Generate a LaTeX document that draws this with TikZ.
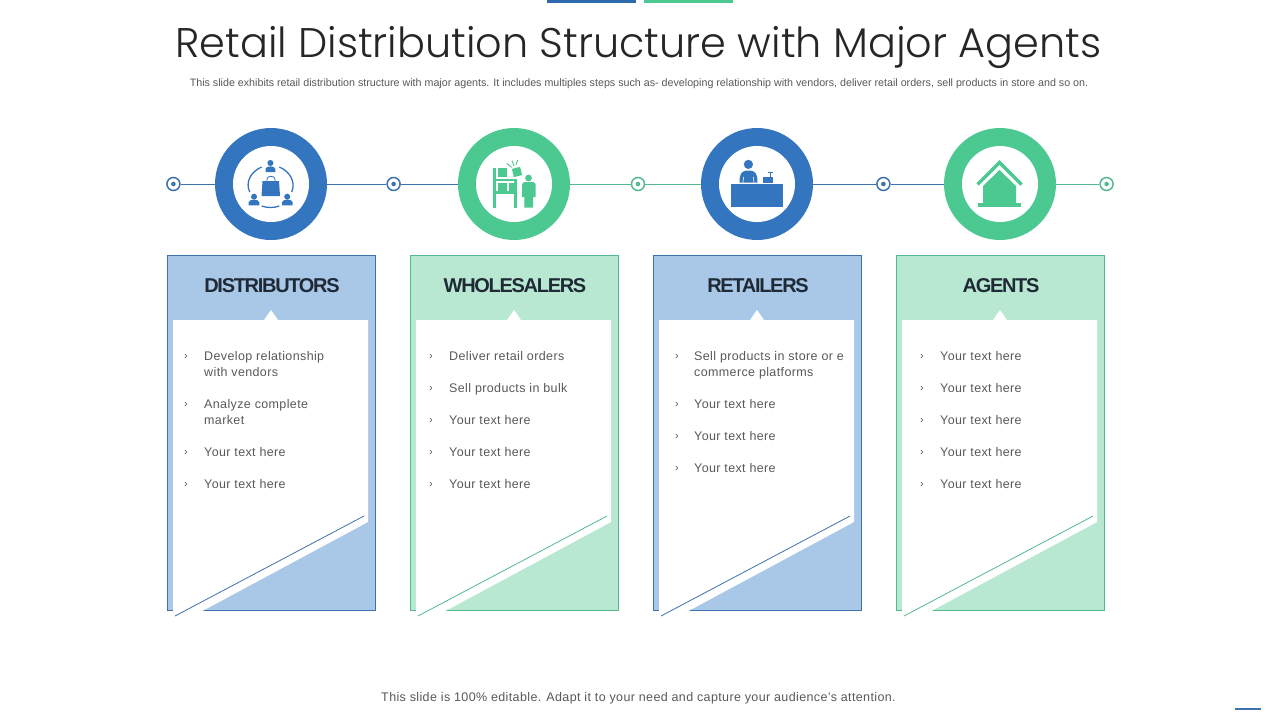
\documentclass[tikz,border=0pt]{standalone}
\usepackage{fontspec}
\setmainfont{Liberation Sans}
\newfontfamily\titlefont[LetterSpace=0]{Poppins Light}
\newfontfamily\headfont[LetterSpace=-6.5]{Liberation Sans Bold}
\newfontfamily\bodyfont[LetterSpace=3]{Liberation Sans}
\definecolor{blueM}{HTML}{3375BE}
\definecolor{greenM}{HTML}{4CC990}
\definecolor{blueL}{HTML}{A9C8E8}
\definecolor{greenL}{HTML}{B8E8D1}
\definecolor{blueB}{HTML}{3D72AC}
\definecolor{greenB}{HTML}{55B98F}
\definecolor{txt}{HTML}{595959}
\definecolor{dark}{HTML}{1F2A36}
\definecolor{titlec}{HTML}{262626}
\tikzset{
  x=1pt,y=-1pt,
  ring/.style={circle,inner sep=0,minimum size=112pt,draw=none,fill=#1},
  hole/.style={circle,inner sep=0,minimum size=76pt,draw=none,fill=white},
  stopring/.style={circle,inner sep=0,minimum size=13pt,line width=1.5pt,draw=#1,fill=white},
  stopdot/.style={circle,inner sep=0,minimum size=4.6pt,fill=#1},
  link/.style={line width=1pt,draw=#1},
  headtext/.style={font=\headfont\fontsize{20}{24}\selectfont,text=dark,inner sep=0},
  itemtext/.style={anchor=north west,inner sep=0,align=left,text=txt,font=\bodyfont\fontsize{12.5}{16}\selectfont},
  itemmark/.style={anchor=center,inner sep=0,text=txt,font=\fontsize{11}{12}\selectfont},
}
% card: #1 name, #2 left x, #3 fill, #4 border, #5 title
\newcommand{\cardblock}[5]{%
  \begin{scope}[shift={(#2,0)}]
    \node[rectangle,inner sep=0,anchor=north west,minimum width=208.4pt,minimum height=355.4pt,fill=#3,draw=#4,line width=.8pt] (#1) at (0,255) {};
    \fill[white] (6,320) -- (97,320) -- (104,310) -- (111,320) -- (201,320) -- (201,522) -- (35,611.2) -- (6,611.2) -- cycle;
    \draw[#4,line width=.8pt] (8,616) -- (197,516);
    \node[headtext] (#1title) at (105,286) {#5};
  \end{scope}}
% item: #1 name, #2 mark x, #3 text x, #4 centre y of first line, #5 text
\newcommand{\listitem}[5]{%
  \node[itemmark] (#1m) at (#2,#4+0.5) {›};
  \node[itemtext] (#1) at (#3,#4-5.1) {#5};}
\begin{document}
\begin{tikzpicture}
\useasboundingbox (0,0) rectangle (1280,720);
\fill[white] (0,0) rectangle (1280,720);
% top accents
\fill[blueM!90!black] (547,0) rectangle (636,3);
\fill[greenM] (644,0) rectangle (733,3);
\fill[blueB] (1235,708) rectangle (1261,710.2);
% title
\node[inner sep=0,text=titlec,font=\titlefont\fontsize{41.4}{48}\selectfont] (title) at (638.5,47.5) {Retail Distribution Structure with Major Agents};
\node[inner sep=0,text=txt,font=\fontsize{10.7}{12}\selectfont] (sub) at (639,83.5) {This slide exhibits retail distribution structure with major agents. It includes multiples  steps such as- developing relationship with vendors, deliver retail orders, sell products in store and so on.};
\node[inner sep=0,text=txt,font=\bodyfont\fontsize{12.5}{14}\selectfont] (foot) at (638.5,698) {This slide is 100\% editable. Adapt it to your need and capture your audience’s attention.};
% rings
\node[ring=blueM] (r1) at (271,184) {};
\node[ring=greenM] (r2) at (514,184) {};
\node[ring=blueM] (r3) at (757,184) {};
\node[ring=greenM] (r4) at (1000,184) {};
\foreach \n/\x in {h1/271,h2/514,h3/757,h4/1000} \node[hole] (\n) at (\x,184) {};
% stops
\node[stopring=blueB] (s1) at (173.4,184) {};
\node[stopring=blueB] (s2) at (393.6,184) {};
\node[stopring=greenB] (s3) at (638,184) {};
\node[stopring=blueB] (s4) at (883.4,184) {};
\node[stopring=greenB] (s5) at (1106.6,184) {};
\draw[link=blueB] (s1) -- (r1);
\draw[link=blueB] (r1) -- (s2);
\draw[link=blueB] (s2) -- (r2);
\draw[link=greenB] (r2) -- (s3);
\draw[link=greenB] (s3) -- (r3);
\draw[link=blueB] (r3) -- (s4);
\draw[link=blueB] (s4) -- (r4);
\draw[link=greenB] (r4) -- (s5);
\node[stopdot=blueB] (d1) at (s1) {};
\node[stopdot=blueB] (d2) at (s2) {};
\node[stopdot=greenB] (d3) at (s3) {};
\node[stopdot=blueB] (d4) at (s4) {};
\node[stopdot=greenB] (d5) at (s5) {};
% icon 1: bag and three people
\begin{scope}[blueM]
  \fill (262.5,181) -- (279,181) -- (280,196) -- (261.5,196) -- cycle;
  \draw[line width=.9pt] (267,184) -- (267,179) .. controls (267,175.5) and (275,175.5) .. (275,179) -- (275,184);
  \fill (270.4,163) circle (3);
  \fill (265.5,172) -- (265.5,169) .. controls (265.5,165.5) and (275.3,165.5) .. (275.3,169) -- (275.3,172) -- cycle;
  \fill (254,196.7) circle (3);
  \fill (248.7,205.3) -- (248.7,202.3) .. controls (248.7,198.8) and (259.3,198.8) .. (259.3,202.3) -- (259.3,205.3) -- cycle;
  \fill (287.2,196.7) circle (3);
  \fill (282,205.3) -- (282,202.3) .. controls (282,198.8) and (292.7,198.8) .. (292.7,202.3) -- (292.7,205.3) -- cycle;
  \draw[line width=1.3pt] (261.7,167) .. controls (251,171.5) and (245,182) .. (249.7,192);
  \draw[line width=1.3pt] (279.3,167) .. controls (290,171.5) and (296,182) .. (291.7,192);
  \draw[line width=1.3pt] (261.7,206) .. controls (267,208) and (274,208) .. (279.3,206);
\end{scope}
% icon 2: shelf, box and person
\begin{scope}[greenM]
  \fill (492.7,168.3) rectangle (496,208);
  \fill (514,180) rectangle (517.3,208);
  \fill (496,178.5) rectangle (517,181);
  \fill (496,191) rectangle (517,193.5);
  \fill (498,168.3) rectangle (506.7,176.7);
  \fill (498,183) rectangle (506.7,190.7);
  \fill (508.7,183) rectangle (516,190.7);
  \fill[rotate around={14:(517,172)}] (512.8,167.8) rectangle (521.2,176.2);
  \draw[line width=.9pt] (506.7,163.3) -- (511.7,167.3);
  \draw[line width=.9pt] (512,160.7) -- (514,166);
  \draw[line width=.9pt] (517.7,160) -- (516,165);
  \fill (528.5,178) circle (3.4);
  \fill (522,184) -- (524,182) -- (533.5,182) -- (535.5,184) -- (535.5,197) -- (533,197) -- (533,207.7) -- (524.3,207.7) -- (524.3,197) -- (522,197) -- cycle;
\end{scope}
% icon 3: counter with clerk and till
\begin{scope}[blueM]
  \fill (731,183.5) rectangle (783,207);
  \fill (748.4,164.4) circle (4.6);
  \fill (739.5,182.5) .. controls (739.5,174) and (741,170.5) .. (748.5,170.5) .. controls (756,170.5) and (757.5,174) .. (757.5,182.5) -- cycle;
  \draw[white,line width=.6pt] (743,183) -- (743.5,177);
  \draw[white,line width=.6pt] (754,183) -- (753.5,177);
  \fill (762.7,176.7) rectangle (773.3,182.7);
  \fill (769.5,173) rectangle (771,176.7);
  \fill (767.7,171.7) rectangle (773.3,173.3);
\end{scope}
% icon 4: house
\begin{scope}[greenM]
  \draw[line width=3.5pt] (977.5,184.5) -- (999.5,162.5) -- (1021.5,184.5);
  \fill (999.5,170) -- (1016,186) -- (1016,203) -- (983,203) -- (983,186) -- cycle;
  \fill (978,203) rectangle (1021,207);
\end{scope}
% cards
\cardblock{c1}{167}{blueL}{blueB}{DISTRIBUTORS}
\cardblock{c2}{410}{greenL}{greenB}{WHOLESALERS}
\cardblock{c3}{653}{blueL}{blueB}{RETAILERS}
\cardblock{c4}{896}{greenL}{greenB}{AGENTS}
% lists
\listitem{a1}{186}{204}{356.5}{Develop relationship\\with vendors}
\listitem{a2}{186}{204}{404.5}{Analyze complete\\market}
\listitem{a3}{186}{204}{452.5}{Your text here}
\listitem{a4}{186}{204}{484.5}{Your text here}
\listitem{b1}{431}{449}{356.5}{Deliver retail orders}
\listitem{b2}{431}{449}{388.5}{Sell products in bulk}
\listitem{b3}{431}{449}{420.5}{Your text here}
\listitem{b4}{431}{449}{452.5}{Your text here}
\listitem{b5}{431}{449}{484.5}{Your text here}
\listitem{e1}{677}{694}{356.5}{Sell products in store or e\\commerce platforms}
\listitem{e2}{677}{694}{404.5}{Your text here}
\listitem{e3}{677}{694}{436.5}{Your text here}
\listitem{e4}{677}{694}{468.5}{Your text here}
\listitem{f1}{922}{940}{356.5}{Your text here}
\listitem{f2}{922}{940}{388.5}{Your text here}
\listitem{f3}{922}{940}{420.5}{Your text here}
\listitem{f4}{922}{940}{452.5}{Your text here}
\listitem{f5}{922}{940}{484.5}{Your text here}
\end{tikzpicture}
\end{document}
